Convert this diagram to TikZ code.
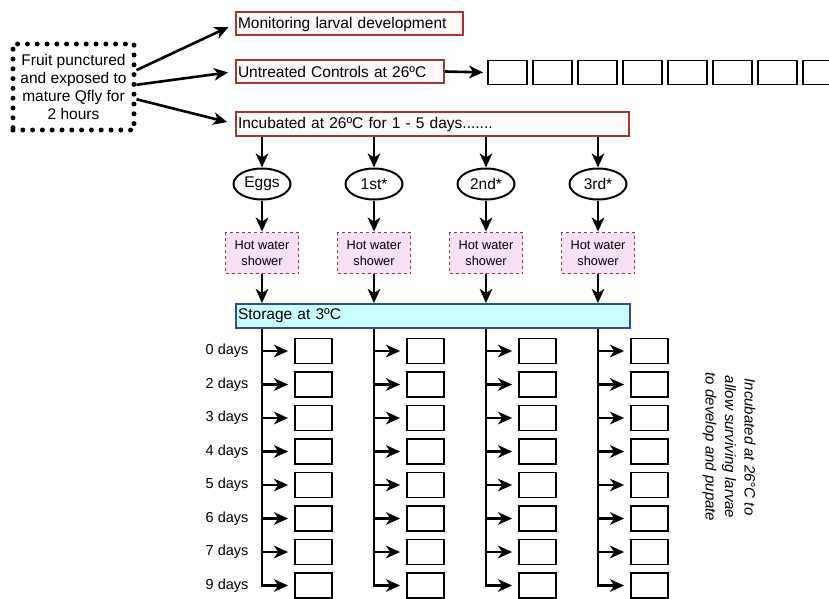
\documentclass[tikz,border=0pt]{standalone}
\usepackage{fontspec}
\setmainfont{Liberation Sans}
\usetikzlibrary{arrows.meta, positioning, shapes.geometric, calc}

\definecolor{boxred}{RGB}{160,55,50}
\definecolor{boxfill}{RGB}{255,250,250}
\definecolor{hotfill}{RGB}{248,225,246}
\definecolor{coldfill}{RGB}{204,255,255}
\definecolor{coldline}{RGB}{45,75,160}

\begin{document}
\begin{tikzpicture}[x=1pt, y=-1pt,
    every node/.style={font=\fontsize{15.5}{18}\selectfont},
    redbox/.style={draw=boxred, line width=2pt, fill=boxfill, anchor=west,
      minimum height=23pt, inner xsep=2pt, inner ysep=0pt, align=left},
    stage/.style={ellipse, draw, line width=2pt, minimum width=57pt,
      minimum height=31pt, inner sep=0pt},
    hot/.style={draw=boxred, dashed, line width=1.8pt, fill=hotfill,
      minimum width=73pt, minimum height=41pt, inner sep=0pt, align=center,
      font=\fontsize{12.8}{16}\selectfont},
    slot/.style={draw, line width=1.8pt, minimum width=37pt, minimum height=25pt, inner sep=0pt},
    topslot/.style={draw, line width=1.8pt, minimum width=39pt, minimum height=24pt, inner sep=0pt},
    arr/.style={-{Stealth[length=14pt, width=12.5pt, inset=4pt]}, line width=2.6pt},
    ]
  \useasboundingbox (0,0) rectangle (829,599);

  % start
  \node[draw, line width=5pt, dash pattern=on 0pt off 9.8pt, line cap=round,
    minimum width=121pt, minimum height=86pt, align=center, inner sep=0pt] (fruit) at (73.5,87)
    {Fruit punctured\\and exposed to\\mature Qfly for\\2 hours};

  \node[redbox, text width=223pt] (mon) at (235,24) {Monitoring larval development};
  \node[redbox, text width=204pt] (ctrl) at (235,71.5) {Untreated Controls at 26ºC};
  \node[redbox, text width=389pt] (inc) at (235,124) {Incubated at 26ºC for 1 - 5 days.......};

  \draw[arr, shorten >=7pt] (fruit.15) -- (mon.west);
  \draw[arr, shorten >=7pt] (fruit.2) -- (ctrl.west);
  \draw[arr, shorten >=8pt] (fruit.-11) -- (inc.west);

  % untreated controls
  \foreach \k in {1,...,8}
    \node[topslot] (t\k) at ({507.5+45*(\k-1)},72.5) {};
  \draw[arr, shorten >=4pt] (ctrl.east) -- (t1.west);

  \node[draw=coldline, line width=2pt, fill=coldfill, anchor=west, minimum width=394pt,
    minimum height=24pt, inner xsep=2pt, inner ysep=0pt, text width=390pt] (store) at (235,316) {Storage at 3ºC};

  % stages
  \foreach \x/\t [count=\i] in {262/Eggs, 374/1st*, 486/2nd*, 598/3rd*} {
    \node[stage] (e\i) at (\x,184) {\t};
    \node[hot] (h\i) at (\x,253) {Hot water\\shower};
    \draw[arr] (inc.south -| e\i) -- (e\i);
    \draw[arr] (e\i) -- (h\i);
    \draw[arr] (h\i) -- (h\i |- store.north);
    \foreach \d [count=\r] in {0,2,3,4,5,6,7,9} {
      \coordinate (j-\i-\r) at (\x,{351+33.5*(\r-1)});
      \node[slot] (b-\i-\r) at (\x+51.5,{351+33.5*(\r-1)}) {};
      \draw[arr, shorten >=6pt] (j-\i-\r) -- (b-\i-\r);
    }
    \draw[line width=2.6pt] (store.south -| j-\i-1) -- ([yshift=-1.3pt]j-\i-8);
  }

  \foreach \d [count=\r] in {0,2,3,4,5,6,7,9}
    \node[anchor=east, font=\fontsize{14.5}{17}\selectfont] (d\r) at (252,{351+33.5*(\r-1)}) {\d{} days};

  \node[rotate=-90, align=center, font=\fontsize{15}{19.5}\itshape\selectfont] (note) at (729,447)
    {Incubated at 26°C to\\allow surviving larvae\\to develop and pupate};
\end{tikzpicture}
\end{document}
